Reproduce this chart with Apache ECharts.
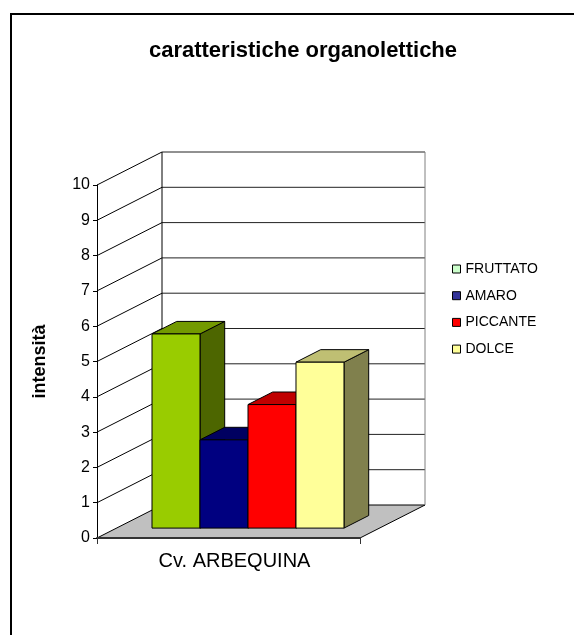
<!DOCTYPE html>
<html>
<head>
<meta charset="utf-8">
<script src="https://cdn.jsdelivr.net/npm/echarts@6/dist/echarts.min.js"></script>
<style>
  html, body { margin: 0; padding: 0; background: #fff; }
  #chart { width: 574px; height: 635px; }
</style>
</head>
<body>
<div id="chart"></div>
<script>
// data
const categories = ['Cv. ARBEQUINA'];
const seriesNames = ['FRUTTATO', 'AMARO', 'PICCANTE', 'DOLCE'];
const values = [5.5, 2.5, 3.5, 4.7];
const yTicks = [0, 1, 2, 3, 4, 5, 6, 7, 8, 9, 10];

// colours: face / top / side, and legend swatches (excel quirk: they differ)
const faceColors = ['#99cc00', '#000080', '#ff0000', '#ffff99'];
const topColors = ['#739900', '#000060', '#c00000', '#bfbf73'];
const sideColors = ['#4d6600', '#000040', '#800000', '#80804d'];
const legendColors = ['#ccffcc', '#333399', '#ff0000', '#ffff99'];

// fake 3d: full depth offset of the walls, and where the bars sit in depth
const DX = 65, DY = -33;
const F0 = 0.3, F1 = 0.68;
const BAR_FRAC = 0.1825;

let chartDom = document.getElementById('chart');
let myChart = echarts.init(chartDom);
let option;

function renderWalls(params, api) {
  const cs = params.coordSys;
  const x0 = cs.x, x1 = cs.x + cs.width;
  const yZero = api.coord([0, 0])[1];
  const yTop = api.coord([0, yTicks[yTicks.length - 1]])[1];
  const line = (a, b, c, d, color) => ({
    type: 'line',
    shape: { x1: a, y1: b, x2: c, y2: d },
    style: { stroke: color || '#000', lineWidth: 1 }
  });
  const children = [];
  // floor
  children.push({
    type: 'polygon',
    shape: { points: [[x0, yZero], [x1, yZero], [x1 + DX, yZero + DY], [x0 + DX, yZero + DY]] },
    style: { fill: '#c0c0c0', stroke: null }
  });
  children.push(line(x0, yZero, x0 + DX, yZero + DY));
  children.push(line(x1, yZero, x1 + DX, yZero + DY));
  children.push(line(x0 + DX, yZero + DY, x1 + DX, yZero + DY));
  // gridlines on side wall and back wall
  yTicks.forEach((v) => {
    if (v === 0) return;
    const y = api.coord([0, v])[1];
    children.push(line(x0, y, x0 + DX, y + DY));
    children.push(line(x0 + DX, y + DY, x1 + DX, y + DY, '#222'));
  });
  children.push(line(x0 + DX, yZero + DY, x0 + DX, yTop + DY));
  children.push(line(x1 + DX, yZero + DY, x1 + DX, yTop + DY, '#808080'));
  return { type: 'group', children: children };
}

function renderBar(params, api) {
  const i = params.seriesIndex - 1;
  const band = api.size([1, 0])[0];
  const barW = band * BAR_FRAC;
  const base = api.coord([api.value(0), 0]);
  const top = api.coord([api.value(0), api.value(1)]);
  const ox = F0 * DX, oy = F0 * DY;
  const sx = (F1 - F0) * DX, sy = (F1 - F0) * DY;
  const left = base[0] + ox - barW * seriesNames.length / 2 + i * barW;
  const right = left + barW;
  const yb = base[1] + oy, yt = top[1] + oy;
  const st = { stroke: '#000', lineWidth: 1, lineJoin: 'round' };
  return {
    type: 'group',
    children: [
      {
        type: 'polygon',
        shape: { points: [[right, yb], [right + sx, yb + sy], [right + sx, yt + sy], [right, yt]] },
        style: Object.assign({ fill: sideColors[i] }, st)
      },
      {
        type: 'polygon',
        shape: { points: [[left, yt], [right, yt], [right + sx, yt + sy], [left + sx, yt + sy]] },
        style: Object.assign({ fill: topColors[i] }, st)
      },
      {
        type: 'polygon',
        shape: { points: [[left, yb], [right, yb], [right, yt], [left, yt]] },
        style: Object.assign({ fill: faceColors[i] }, st)
      }
    ]
  };
}

const barSeries = seriesNames.map((name, i) => ({
  name: name,
  type: 'custom',
  renderItem: renderBar,
  itemStyle: { color: legendColors[i] },
  data: [[0, values[i]]],
  z: 3 + i
}));

option = {
  animation: false,
  textStyle: { fontFamily: 'Liberation Sans, Arial, sans-serif', color: '#000' },
  title: {
    text: 'caratteristiche organolettiche',
    left: 298,
    textAlign: 'center',
    top: 35,
    textStyle: { fontSize: 22, fontWeight: 'bold', color: '#000' }
  },
  legend: {
    orient: 'vertical',
    left: 447,
    top: 257,
    itemWidth: 8,
    itemHeight: 8,
    itemGap: 12.7,
    icon: 'rect',
    textStyle: { fontSize: 14, color: '#000' },
    data: seriesNames.map((n, i) => ({
      name: n,
      itemStyle: { color: legendColors[i], borderColor: '#000', borderWidth: 1 }
    }))
  },
  grid: { left: 97, right: 214, top: 185, bottom: 97 },
  xAxis: {
    type: 'category',
    data: categories,
    z: 10,
    axisLine: { lineStyle: { color: '#333', width: 2 } },
    axisTick: { show: true, length: 6, lineStyle: { color: '#333' } },
    axisLabel: { fontSize: 20, color: '#000', margin: 13, padding: [0, 0, 0, 12] }
  },
  yAxis: {
    type: 'value',
    min: 0,
    max: 10,
    interval: 1,
    z: 10,
    name: 'intensità',
    nameLocation: 'middle',
    nameGap: 48,
    nameTextStyle: { fontSize: 18, fontWeight: 'bold', color: '#000' },
    axisLine: { show: true, lineStyle: { color: '#000', width: 1 } },
    axisTick: { show: true, length: 4, lineStyle: { color: '#000' } },
    axisLabel: { fontSize: 16, color: '#000', margin: 7 },
    splitLine: { show: false }
  },
  graphic: [
    {
      type: 'rect',
      shape: { x: 11, y: 14, width: 700, height: 700 },
      style: { fill: null, stroke: '#000', lineWidth: 2 },
      silent: true
    }
  ],
  series: [
    {
      name: 'walls',
      type: 'custom',
      renderItem: renderWalls,
      data: [[0, 0]],
      silent: true,
      z: 1
    }
  ].concat(barSeries)
};

option && myChart.setOption(option);
</script>
</body>
</html>
